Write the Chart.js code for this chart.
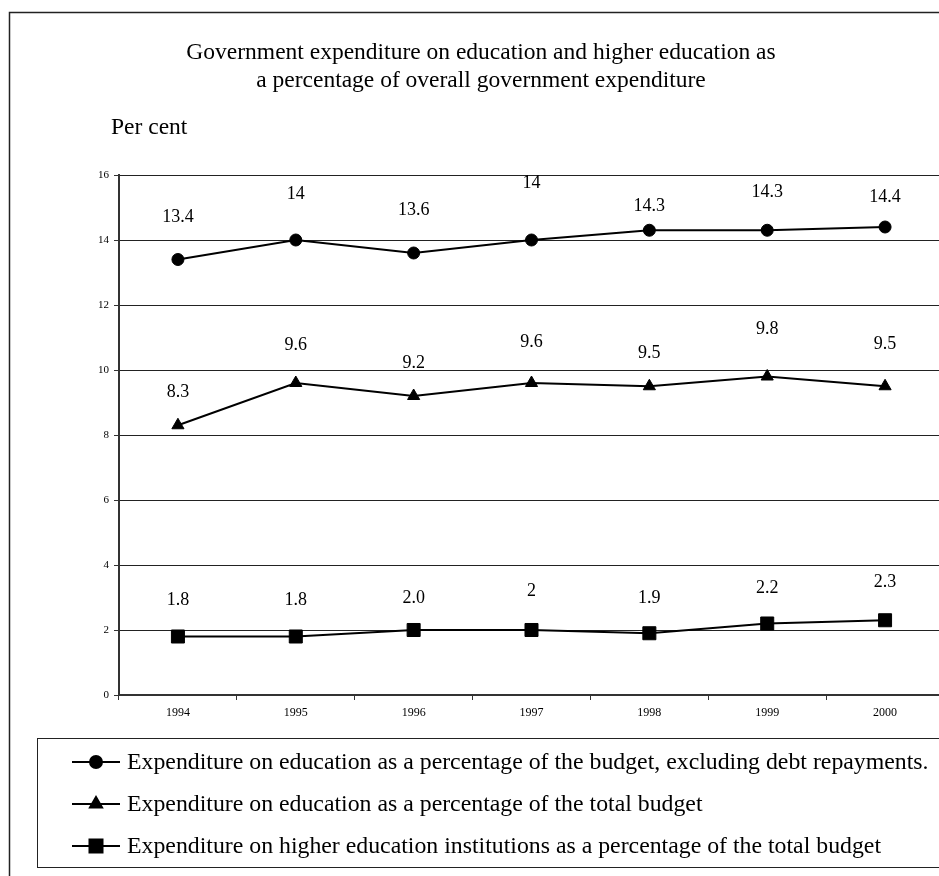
<!DOCTYPE html>
<html>
<head>
<meta charset="utf-8">
<script src="https://cdn.jsdelivr.net/npm/chart.js@4.4.1/dist/chart.umd.min.js"></script>
<style>
  html, body { margin: 0; padding: 0; background: #fff; overflow: hidden; }
  #wrap { width: 939px; height: 876px; overflow: hidden; }
  canvas { display: block; }
</style>
</head>
<body>
<div id="wrap"><canvas id="chart" width="962" height="876"></canvas></div>
<script>
// Years on the horizontal axis
const years = ['1994', '1995', '1996', '1997', '1998', '1999', '2000'];

// Education spending, share of the budget excluding debt repayments (%)
const eduExclDebt = [13.4, 14, 13.6, 14, 14.3, 14.3, 14.4];
const eduExclDebtText = ['13.4', '14', '13.6', '14', '14.3', '14.3', '14.4'];

// Education spending, share of the total budget (%)
const eduTotal = [8.3, 9.6, 9.2, 9.6, 9.5, 9.8, 9.5];
const eduTotalText = ['8.3', '9.6', '9.2', '9.6', '9.5', '9.8', '9.5'];

// Higher education institutions, share of the total budget (%)
const higherEd = [1.8, 1.8, 2.0, 2, 1.9, 2.2, 2.3];
const higherEdText = ['1.8', '1.8', '2.0', '2', '1.9', '2.2', '2.3'];

// Value axis ticks
const yTicks = [0, 2, 4, 6, 8, 10, 12, 14, 16];

const seriesNames = [
  'Expenditure on education as a percentage of the budget, excluding debt repayments.',
  'Expenditure on education as a percentage of the total budget',
  'Expenditure on higher education institutions as a percentage of the total budget'
];

// How far each value label sits above its point (px)
const labelLift = [
  [42, 46, 43, 57, 24, 38, 30],
  [33, 38, 33, 41, 33, 47, 42],
  [36, 36, 32, 39, 35, 35, 38]
];

const SERIF = '"Liberation Serif", "Times New Roman", serif';
Chart.defaults.font.family = SERIF;
Chart.defaults.color = '#000';

// Frame, headings and value labels
const decorations = {
  id: 'decorations',
  beforeDraw(chart) {
    const ctx = chart.ctx;
    ctx.save();
    ctx.fillStyle = '#fff';
    ctx.fillRect(0, 0, chart.width, chart.height);
    ctx.strokeStyle = '#222';
    ctx.lineWidth = 1.5;
    ctx.strokeRect(9.5, 12.5, 943, 900);

    ctx.fillStyle = '#000';
    ctx.font = '23.5px ' + SERIF;
    ctx.textAlign = 'center';
    ctx.textBaseline = 'middle';
    ctx.fillText('Government expenditure on education and higher education as', 481, 53);
    ctx.fillText('a percentage of overall government expenditure', 481, 81);
    ctx.textAlign = 'left';
    ctx.fillText('Per cent', 111, 128);
    ctx.restore();
  },
  afterDatasetsDraw(chart) {
    const ctx = chart.ctx;
    const texts = [eduExclDebtText, eduTotalText, higherEdText];
    ctx.save();
    ctx.fillStyle = '#000';
    ctx.font = '18px ' + SERIF;
    ctx.textAlign = 'center';
    ctx.textBaseline = 'middle';
    chart.data.datasets.forEach((ds, di) => {
      const meta = chart.getDatasetMeta(di);
      meta.data.forEach((pt, i) => {
        ctx.fillText(texts[di][i], pt.x, pt.y - labelLift[di][i]);
      });
    });
    ctx.restore();
  },
  afterDraw(chart) {
    // Legend box with line-and-marker keys
    const ctx = chart.ctx;
    ctx.save();
    ctx.strokeStyle = '#222';
    ctx.lineWidth = 1;
    ctx.strokeRect(37.5, 738.5, 912, 129);
    ctx.font = '23.8px ' + SERIF;
    ctx.textAlign = 'left';
    ctx.textBaseline = 'middle';
    chart.data.datasets.forEach((ds, i) => {
      const y = 762 + i * 42;
      ctx.strokeStyle = '#000';
      ctx.lineWidth = 2;
      ctx.beginPath();
      ctx.moveTo(72, y);
      ctx.lineTo(120, y);
      ctx.stroke();
      ctx.fillStyle = '#000';
      Chart.helpers.drawPoint(ctx, {
        pointStyle: ds.pointStyle,
        radius: ds.pointRadius,
        rotation: 0,
        borderWidth: 1
      }, 96, y);
      ctx.fill();
      ctx.fillStyle = '#000';
      ctx.fillText(ds.label, 127, y + 1);
    });
    ctx.restore();
  }
};

const lineStyle = { borderColor: '#000', backgroundColor: '#000', borderWidth: 2,
  pointBackgroundColor: '#000', pointBorderColor: '#000', pointBorderWidth: 1,
  tension: 0, fill: false };

new Chart(document.getElementById('chart'), {
  type: 'line',
  data: {
    labels: years,
    datasets: [
      Object.assign({ label: seriesNames[0], data: eduExclDebt, pointStyle: 'circle', pointRadius: 6 }, lineStyle),
      Object.assign({ label: seriesNames[1], data: eduTotal, pointStyle: 'triangle', pointRadius: 7 }, lineStyle),
      Object.assign({ label: seriesNames[2], data: higherEd, pointStyle: 'rect', pointRadius: 9.2 }, lineStyle)
    ]
  },
  options: {
    responsive: false,
    animation: false,
    devicePixelRatio: 1,
    layout: { padding: { top: 175, left: 0, right: 18, bottom: 141 } },
    plugins: { legend: { display: false }, title: { display: false }, tooltip: { enabled: false } },
    scales: {
      x: {
        type: 'category',
        offset: true,
        afterFit(scale) { scale.height = 40; },
        grid: { offset: true, drawOnChartArea: false, drawTicks: true, tickLength: 5, color: '#333', lineWidth: 1 },
        border: { display: true, color: '#333', width: 2 },
        ticks: { padding: 6, font: { size: 12, family: SERIF }, color: '#000', maxRotation: 0 }
      },
      y: {
        min: 0,
        max: 16,
        afterFit(scale) { scale.width = 119; },
        afterBuildTicks(scale) { scale.ticks = yTicks.map(v => ({ value: v })); },
        grid: { color: '#222', lineWidth: 1, drawTicks: true, tickLength: 5, tickColor: '#333' },
        border: { display: true, color: '#333', width: 2 },
        ticks: { padding: 5, font: { size: 11, family: SERIF }, color: '#000' }
      }
    }
  },
  plugins: [decorations]
});
</script>
</body>
</html>
